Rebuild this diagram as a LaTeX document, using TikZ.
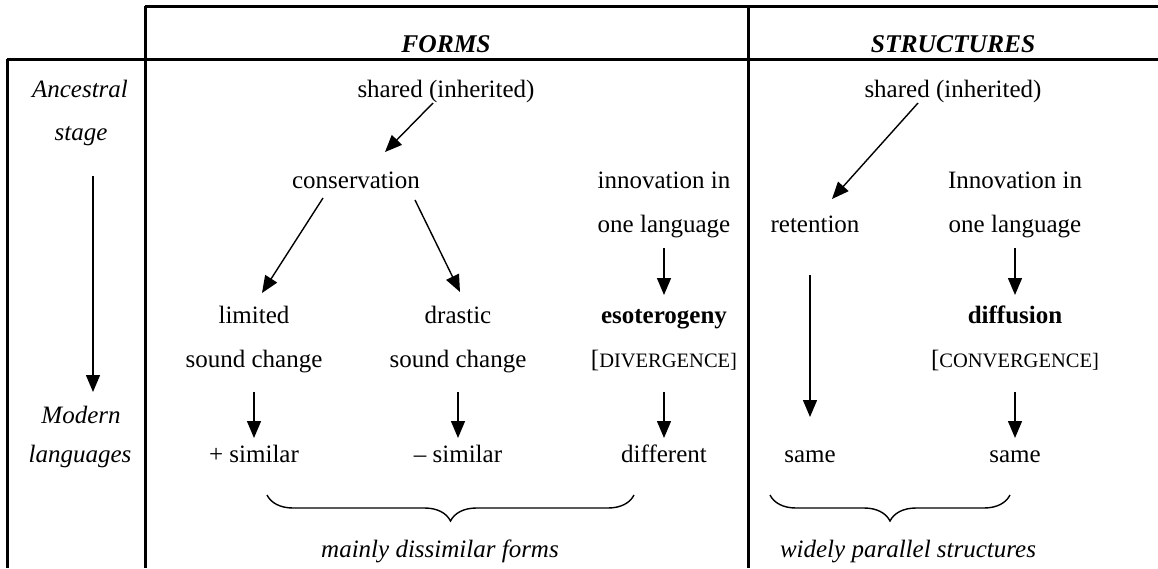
\documentclass[tikz,border=0pt]{standalone}
\usepackage{fontspec}
\setmainfont{Liberation Serif}
\usetikzlibrary{arrows.meta,decorations.pathreplacing}
\begin{document}
\begin{tikzpicture}[x=1pt,y=-1pt,
  txt/.style={anchor=base,inner sep=0pt,font=\fontsize{25}{30}\selectfont},
  lab/.style={txt,font=\fontsize{25}{30}\selectfont\itshape},
  head/.style={txt,font=\fontsize{25.5}{30}\selectfont\bfseries\itshape},
  bold/.style={txt,font=\fontsize{25}{30}\selectfont\bfseries},
  frame/.style={line width=3pt},
  arr/.style={line width=1.4pt,-{Triangle[length=17pt,width=14pt]}},
  brc/.style={line width=1.4pt,decorate,decoration={brace,mirror,amplitude=26pt}}]
\useasboundingbox (0,0) rectangle (1158,568);
% frame
\draw[frame] (145,6) -- (1158,6);
\draw[frame] (7,59) -- (1158,59);
\draw[frame] (7,59) -- (7,568);
\draw[frame] (145,6) -- (145,568);
\draw[frame] (748,6) -- (748,568);
% headers
\node[head] (hforms) at (446,52) {FORMS};
\node[head] (hstruct) at (953,52) {STRUCTURES};
% left column
\node[lab] (anc) at (80,97) {Ancestral};
\node[lab] (stage) at (81,140) {stage};
\node[lab] (modern) at (81,423) {Modern};
\node[lab] (langs) at (80,462) {languages};
% forms
\node[txt] (sh1) at (446,97) {shared (inherited)};
\node[txt] (cons) at (356,188) {conservation};
\node[txt] (inn1a) at (664,188) {innovation in};
\node[txt] (inn1b) at (664,232) {one language};
\node[txt] (lim) at (254,323) {limited};
\node[txt] (sc1) at (254,367) {sound change};
\node[txt] (dra) at (458,323) {drastic};
\node[txt] (sc2) at (458,367) {sound change};
\node[bold] (eso) at (664,323) {esoterogeny};
\node[txt] (div) at (664,367) {[\fontsize{20.5}{26}\selectfont DIVERGENCE]};
\node[txt] (ps) at (254,462) {+ similar};
\node[txt] (ms) at (458,462) {– similar};
\node[txt] (diff) at (664,462) {different};
% structures
\node[txt] (sh2) at (953,97) {shared (inherited)};
\node[txt] (ret) at (815,232) {retention};
\node[txt] (inn2a) at (1015,188) {Innovation in};
\node[txt] (inn2b) at (1015,232) {one language};
\node[bold] (dif) at (1015,323) {diffusion};
\node[txt] (conv) at (1015,367) {[\fontsize{20.5}{26}\selectfont CONVERGENCE]};
\node[txt] (same1) at (810,462) {same};
\node[txt] (same2) at (1015,462) {same};
% bottom labels
\node[lab] (bl1) at (440,557) {mainly dissimilar forms};
\node[lab] (bl2) at (908,557) {widely parallel structures};
% arrows
\draw[arr] ([shift={(12,36)}]stage.base) -- ([shift={(12,-31)}]modern.base);
\draw[arr] ([shift={(-13,6)}]sh1.base) -- ([shift={(29,-36)}]cons.base);
\draw[arr] ([shift={(-33,10)}]cons.base) -- ([shift={(8,-30)}]lim.base);
\draw[arr] ([shift={(59,12)}]cons.base) -- ([shift={(2,-31)}]dra.base);
\draw[arr] ([shift={(0,16)}]inn1b.base) -- ([shift={(0,-28)}]eso.base);
\draw[arr] ([shift={(0,25)}]sc1.base) -- ([shift={(0,-24)}]ps.base);
\draw[arr] ([shift={(0,25)}]sc2.base) -- ([shift={(0,-24)}]ms.base);
\draw[arr] ([shift={(0,25)}]div.base) -- ([shift={(0,-24)}]diff.base);
\draw[arr] ([shift={(-35,6)}]sh2.base) -- ([shift={(17,-33)}]ret.base);
\draw[arr] ([shift={(-5,43)}]ret.base) -- ([shift={(0,-45)}]same1.base);
\draw[arr] ([shift={(0,16)}]inn2b.base) -- ([shift={(0,-28)}]dif.base);
\draw[arr] ([shift={(0,25)}]conv.base) -- ([shift={(0,-24)}]same2.base);
% braces
\draw[brc] (267,495) -- (634,495);
\draw[brc] (770,495) -- (1010,495);
\end{tikzpicture}
\end{document}
